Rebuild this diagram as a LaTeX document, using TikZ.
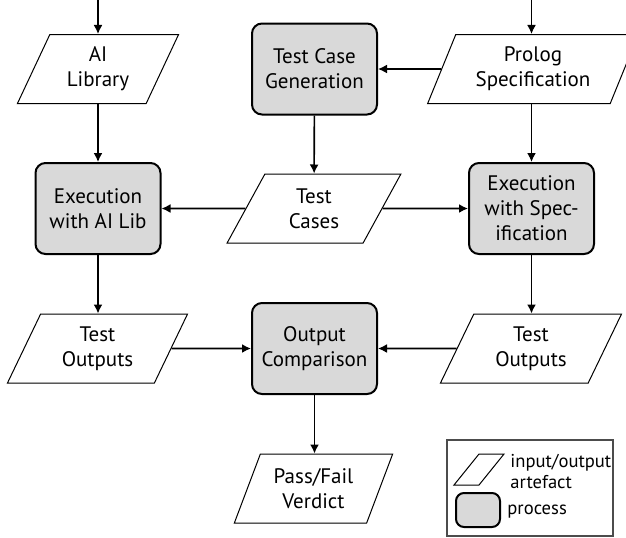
\documentclass[tikz,border=0pt]{standalone}
\usepackage{fontspec}
\setmainfont{PT Sans}
\usetikzlibrary{shapes.geometric,arrows.meta}

\tikzset{
	artefact/.style={trapezium, trapezium left angle=70, trapezium right angle=110,
		trapezium stretches, draw, line width=0.5pt, fill=white, align=center,
		minimum height=34.5pt, inner xsep=0pt},
	process/.style={rectangle, rounded corners=5pt, draw, line width=1pt,
		fill=black!15, align=center, minimum width=62.5pt, minimum height=45.5pt},
	flow/.style={-{Latex[length=4.5pt,width=4.5pt]}, line width=0.8pt},
	keytext/.style={anchor=west, inner sep=0pt, font=\fontsize{9.3pt}{10.5pt}\selectfont},
}

\begin{document}
\begin{tikzpicture}[x=0.5pt, y=-0.5pt, font=\fontsize{10.5pt}{12.5pt}\selectfont]
	\useasboundingbox (0,0) rectangle (626,537);

	% inputs
	\coordinate (libin) at (98,0);
	\coordinate (specin) at (531.5,0);
	\node [artefact, minimum width=81pt] (lib) at (98,69) {AI\\Library};
	\node [process] (gen) at (314.5,69) {Test Case\\Generation};
	\node [artefact, minimum width=106pt] (spec) at (533,69) {Prolog\\Specification};

	% execution
	\node [process] (runlib) at (98,208.5) {Execution\\with AI Lib};
	\node [artefact, minimum width=87pt] (cases) at (314,208.5) {Test\\Cases};
	\node [process] (runspec) at (531.5,208.5) {Execution\\with Spec-\\ification};

	% outputs
	\node [artefact, minimum width=90.5pt] (outlib) at (97.5,348.5) {Test\\Outputs};
	\node [process] (cmp) at (314.5,348.5) {Output\\Comparison};
	\node [artefact, minimum width=91pt] (outspec) at (531,348.5) {Test\\Outputs};
	\node [artefact, minimum width=79.5pt] (verdict) at (313.5,488.5) {Pass/Fail\\Verdict};

	% flows
	\draw [flow] (libin) -- (lib);
	\draw [flow] (specin) -- (spec.north -| specin);
	\draw [flow] (lib) -- (runlib);
	\draw [flow] (spec) -- (gen);
	\draw [flow] (spec.south -| runspec) -- (runspec);
	\draw [flow] (gen) -- (cases);
	\draw [flow] (cases) -- (runlib);
	\draw [flow] (cases) -- (runspec);
	\draw [flow] (runlib) -- (outlib.north -| runlib);
	\draw [flow] (runspec) -- (outspec.north -| runspec);
	\draw [flow] (outlib) -- (cmp);
	\draw [flow] (outspec) -- (cmp);
	\draw [flow] (cmp) -- (verdict.north -| cmp);

	% legend
	\node [draw=black!70, line width=0.6pt, minimum width=83pt, minimum height=48pt] (legend) at (530,488) {};
	\node [artefact, minimum width=25pt, minimum height=15.5pt] (keyart) at (479,469.5) {};
	\node [process, minimum width=22pt, minimum height=17pt, rounded corners=4pt] (keyproc) at (478,510) {};
	\node [keytext, align=left] (keyarttext) at (510,471) {input/output\\artefact};
	\node [keytext] (keyproctext) at (507,512) {process};
\end{tikzpicture}
\end{document}
